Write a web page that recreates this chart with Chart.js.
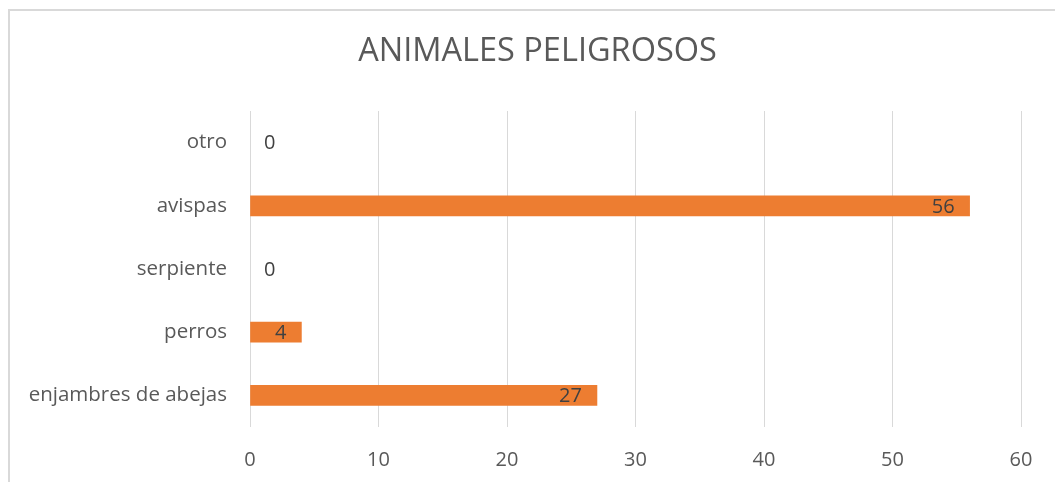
<!DOCTYPE html>
<html>
<head>
<meta charset="utf-8">
<script src="https://cdn.jsdelivr.net/npm/chart.js@4"></script>
<style>
  html, body { margin: 0; padding: 0; background: #fff; overflow: hidden; }
  .wrap { position: relative; width: 1055px; height: 482px; }
  .frame { position: absolute; left: 8px; top: 9px; width: 1200px; height: 600px;
           border-left: 2px solid #d9d9d9; border-top: 2px solid #d9d9d9; }
  canvas { position: absolute; left: 0; top: 0; }
</style>
</head>
<body>
<div class="wrap">
  <div class="frame"></div>
  <canvas id="chart" width="1055" height="482"></canvas>
</div>
<script>
const categories = ['otro', 'avispas', 'serpiente', 'perros', 'enjambres de abejas']
const values = [0, 56, 0, 4, 27]
const xTicks = [0, 10, 20, 30, 40, 50, 60]

const canvas = document.getElementById('chart')
const ctx = canvas.getContext('2d')
const FONT = 'Open Sans'

// data labels, Excel style "inside end"
const valueLabels = {
    id: 'valueLabels',
    afterDatasetsDraw(chart) {
        const c = chart.ctx
        const meta = chart.getDatasetMeta(0)
        c.save()
        c.font = '20px "' + FONT + '"'
        c.fillStyle = '#404040'
        c.textBaseline = 'middle'
        meta.data.forEach((bar, i) => {
            const v = values[i]
            if (v === 0) {
                c.textAlign = 'left'
                c.fillText(String(v), bar.x + 14, bar.y + 1)
            } else {
                c.textAlign = 'right'
                c.fillText(String(v), bar.x - 15, bar.y + 1)
            }
        })
        c.restore()
    }
}

var myChart = new Chart(ctx, {
    type: 'bar',
    data: {
        labels: categories,
        datasets: [{
            data: values,
            backgroundColor: c => (values[c.dataIndex] === 0 ? 'rgba(0,0,0,0)' : '#ED7D31'),
            borderWidth: 0,
            barThickness: 20
        }]
    },
    options: {
        indexAxis: 'y',
        responsive: false,
        animation: false,
        layout: { padding: { left: 20, right: 0, top: 0, bottom: 0 } },
        plugins: {
            legend: { display: false },
            tooltip: { enabled: false },
            title: {
                display: true,
                text: 'ANIMALES PELIGROSOS',
                color: '#595959',
                font: { family: FONT, size: 32.5, weight: 'normal' },
                padding: { top: 32, bottom: 40 }
            }
        },
        scales: {
            x: {
                min: 0,
                max: 60,
                afterBuildTicks(axis) {
                    axis.ticks = xTicks.map(v => ({ value: v }))
                },
                afterFit(axis) { axis.height = 55 },
                grid: { color: '#d9d9d9', lineWidth: 1, drawTicks: false },
                border: { display: false },
                ticks: {
                    color: '#595959',
                    font: { family: FONT, size: 20 },
                    padding: 21
                }
            },
            y: {
                afterFit(axis) { axis.width = 230 },
                grid: { display: false },
                border: { display: false },
                ticks: {
                    color: '#595959',
                    font: { family: FONT, size: 20.5 },
                    padding: 15
                }
            },
            yRight: {
                position: 'right',
                afterFit(axis) { axis.width = 34 },
                grid: { display: false },
                border: { display: false },
                ticks: { display: false }
            }
        }
    },
    plugins: [valueLabels]
})
</script>
</body>
</html>
